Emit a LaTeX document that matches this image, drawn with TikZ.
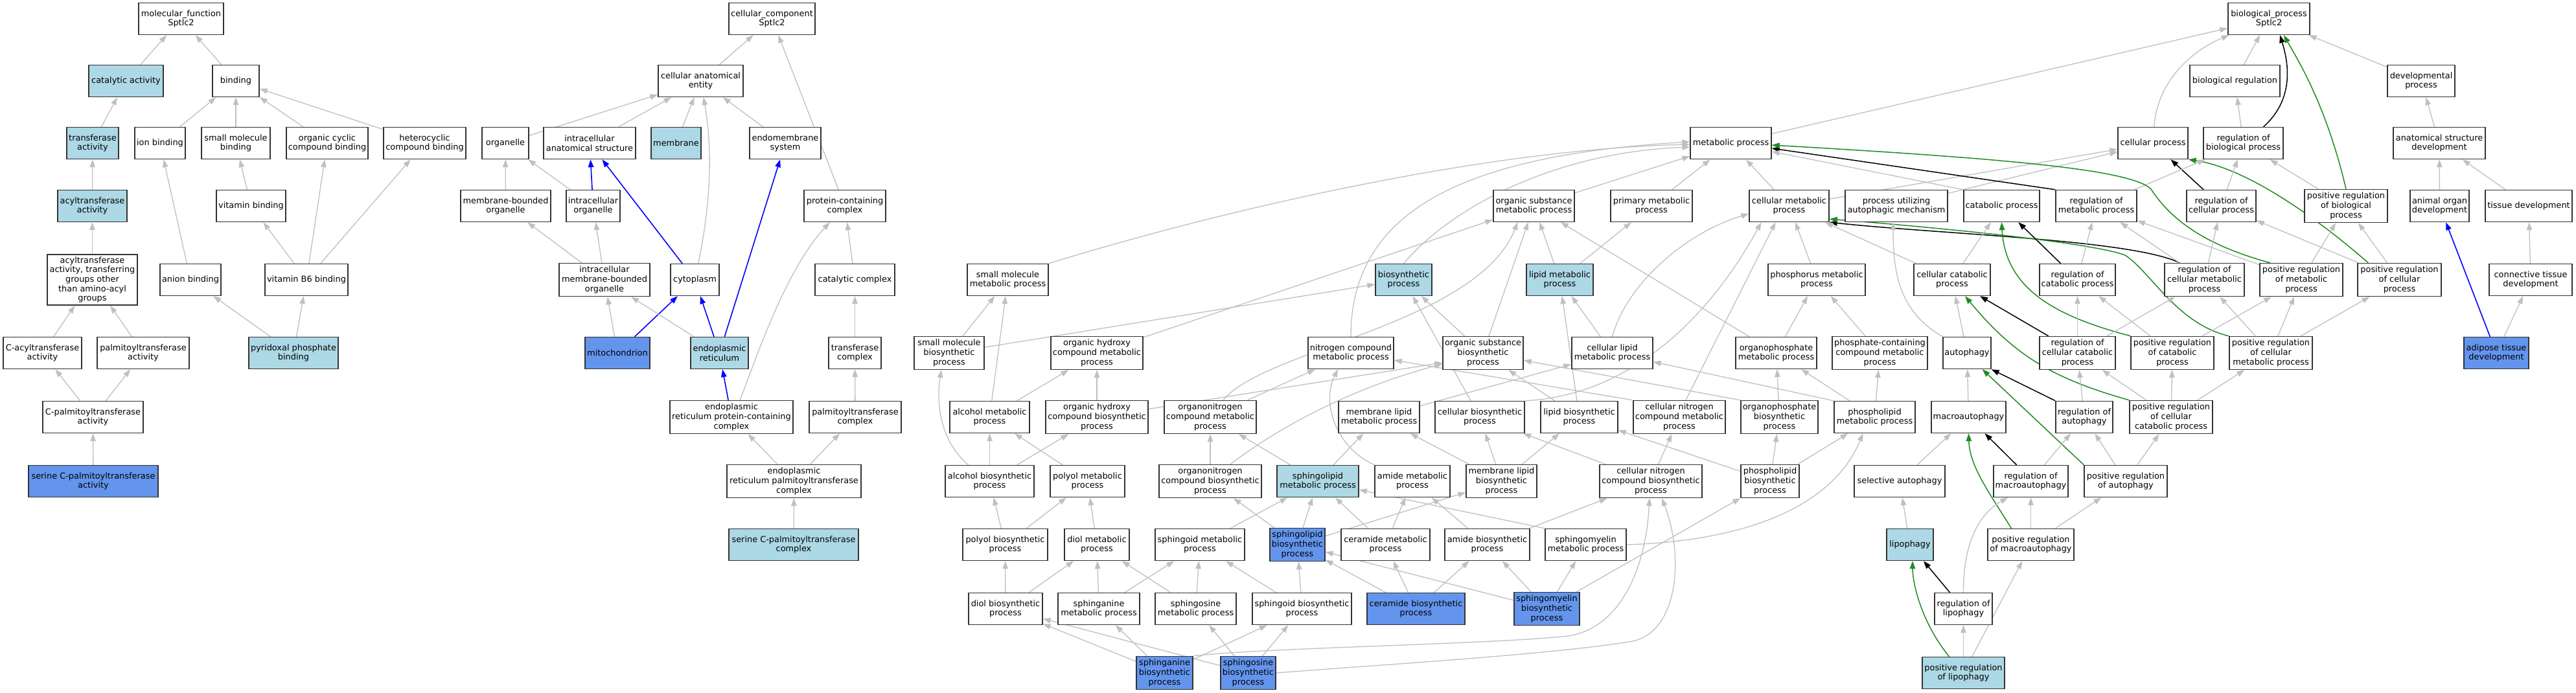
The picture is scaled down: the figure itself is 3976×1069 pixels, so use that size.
\documentclass[tikz,border=0pt]{standalone}
\usepackage{fontspec}
\setmainfont{DejaVu Sans}
\usetikzlibrary{arrows.meta,backgrounds,calc}
\definecolor{lb}{RGB}{173,216,230}
\definecolor{cb}{RGB}{100,149,237}
\definecolor{eg}{RGB}{192,192,192}
\definecolor{fg}{RGB}{34,139,34}
\newcommand\gn[6][]{\node[box,#1,minimum width={#4-#3}] (#2) at ({(#3+#4)/2},#5) {#6};}
\newcommand\edg[3][ge]{\draw[#1] (#2) -- (#3);}
\newcommand\cv[5][ge]{\draw[#1] (#2) .. controls (#3) and (#4) .. (#5);}
\begin{document}
\begin{tikzpicture}[x=1pt,y=-1pt,
 box/.style={draw=black!80,line width=1.4pt,fill=white,rectangle,minimum height=49,inner sep=1pt,align=center,font=\fontsize{12.9}{14.6}\selectfont},
 tall/.style={minimum height=51},
 lbf/.style={fill=lb}, cbf/.style={fill=cb},
 ge/.style={draw=eg,line width=1.3pt,-{Triangle[length=12pt,width=8.5pt]}},
 ke/.style={draw=black,line width=1.5pt,-{Triangle[length=12pt,width=8.5pt]}},
 gre/.style={draw=fg,line width=1.5pt,-{Triangle[length=12pt,width=8.5pt]}},
 be/.style={draw=blue,line width=1.6pt,-{Triangle[length=12pt,width=8.5pt]}}]
\useasboundingbox (0,0) rectangle (3976,1069);
% ---------------- molecular function
\gn{mf}{214}{345}{29}{molecular\_function\\Sptlc2}
\gn[lbf]{catact}{137}{252}{125}{catalytic activity}
\gn{binding}{328}{400}{125}{binding}
\gn[lbf]{transf}{103}{183}{221}{transferase\\activity}
\gn{ionb}{208}{286}{221}{ion binding}
\gn{smb}{311}{417}{221}{small molecule\\binding}
\gn{ocb}{442}{568}{221}{organic cyclic\\compound binding}
\gn{hcb}{592}{719}{221}{heterocyclic\\compound binding}
\gn[lbf]{acyl}{89}{196}{318}{acyltransferase\\activity}
\gn{vitb}{334}{441}{318}{vitamin binding}
\gn[minimum height=78]{acylo}{73}{212}{432}{acyltransferase\\activity, transferring\\groups other\\than amino-acyl\\groups}
\gn{anion}{247}{341}{432}{anion binding}
\gn{vb6}{409}{537}{432}{vitamin B6 binding}
\gn{cacyl}{5}{126}{545}{C-acyltransferase\\activity}
\gn{palm}{150}{292}{545}{palmitoyltransferase\\activity}
\gn[lbf]{pyr}{384}{522}{545}{pyridoxal phosphate\\binding}
\gn{cpalm}{66}{221}{644}{C-palmitoyltransferase\\activity}
\gn[cbf]{serpt}{44}{244}{743}{serine C-palmitoyltransferase\\activity}
% ---------------- cellular component
\gn{cc}{1125}{1258}{29}{cellular\_component\\Sptlc2}
\gn{cae}{1016}{1147}{125}{cellular anatomical\\entity}
\gn{org}{744}{816}{221}{organelle}
\gn{ias}{839}{981}{221}{intracellular\\anatomical structure}
\gn[lbf]{memb}{1005}{1082}{221}{membrane}
\gn{endo}{1157}{1267}{221}{endomembrane\\system}
\gn{mbo}{711}{850}{318}{membrane-bounded\\organelle}
\gn{io}{874}{957}{318}{intracellular\\organelle}
\gn{pcc}{1241}{1367}{318}{protein-containing\\complex}
\gn[tall]{imbo}{863}{1003}{432}{intracellular\\membrane-bounded\\organelle}
\gn{cyto}{1035}{1110}{432}{cytoplasm}
\gn{catc}{1258}{1381}{432}{catalytic complex}
\gn[cbf]{mito}{903}{1003}{545}{mitochondrion}
\gn[lbf]{er}{1066}{1155}{545}{endoplasmic\\reticulum}
\gn{trc}{1279}{1360}{545}{transferase\\complex}
\gn[tall]{erpcc}{1034}{1224}{644}{endoplasmic\\reticulum protein-containing\\complex}
\gn{palmc}{1249}{1391}{644}{palmitoyltransferase\\complex}
\gn[tall]{erptc}{1122}{1329}{743}{endoplasmic\\reticulum palmitoyltransferase\\complex}
\gn[lbf]{sptc}{1125}{1325}{841}{serine C-palmitoyltransferase\\complex}
% ---------------- biological process
\gn{bp}{3439}{3565}{29}{biological\_process\\Sptlc2}
\gn{breg}{3380}{3519}{125}{biological regulation}
\gn{dev}{3685}{3789}{125}{developmental\\process}
\gn{mp}{2609}{2734}{221}{metabolic process}
\gn{cp}{3269}{3377}{221}{cellular process}
\gn{rbp}{3401}{3524}{221}{regulation of\\biological process}
\gn{asd}{3694}{3836}{221}{anatomical structure\\development}
\gn{osm}{2305}{2430}{318}{organic substance\\metabolic process}
\gn{pmp}{2486}{2612}{318}{primary metabolic\\process}
\gn{cmp}{2700}{2823}{318}{cellular metabolic\\process}
\gn{puam}{2848}{3006}{318}{process utilizing\\autophagic mechanism}
\gn{catp}{3031}{3148}{318}{catabolic process}
\gn{rmp}{3173}{3298}{318}{regulation of\\metabolic process}
\gn{rcp}{3375}{3482}{318}{regulation of\\cellular process}
\gn[tall]{prbp}{3557}{3685}{318}{positive regulation\\of biological\\process}
\gn{aod}{3720}{3811}{318}{animal organ\\development}
\gn{td}{3836}{3970}{318}{tissue development}
\gn{smm}{1493}{1618}{432}{small molecule\\metabolic process}
\gn[lbf]{bsp}{2123}{2210}{432}{biosynthetic\\process}
\gn[lbf]{lmp}{2356}{2459}{432}{lipid metabolic\\process}
\gn{phmp}{2729}{2879}{432}{phosphorus metabolic\\process}
\gn{ccp}{2954}{3072}{432}{cellular catabolic\\process}
\gn{rcat}{3148}{3265}{432}{regulation of\\catabolic process}
\gn[tall]{rcmp}{3341}{3464}{432}{regulation of\\cellular metabolic\\process}
\gn[tall]{prmp}{3488}{3616}{432}{positive regulation\\of metabolic\\process}
\gn[tall]{prcp}{3639}{3768}{432}{positive regulation\\of cellular\\process}
\gn{ctd}{3842}{3970}{432}{connective tissue\\development}
\gn[tall]{smb2}{1411}{1519}{545}{small molecule\\biosynthetic\\process}
\gn[tall]{ohcm}{1622}{1764}{545}{organic hydroxy\\compound metabolic\\process}
\gn{ncm}{2019}{2151}{545}{nitrogen compound\\metabolic process}
\gn[tall]{osb}{2227}{2351}{545}{organic substance\\biosynthetic\\process}
\gn{clm}{2426}{2551}{545}{cellular lipid\\metabolic process}
\gn{opm}{2679}{2804}{545}{organophosphate\\metabolic process}
\gn[tall]{pccm}{2828}{2975}{545}{phosphate-containing\\compound metabolic\\process}
\gn{aut}{2999}{3073}{545}{autophagy}
\gn[tall]{rccp}{3148}{3265}{545}{regulation of\\cellular catabolic\\process}
\gn[tall]{prcat}{3289}{3417}{545}{positive regulation\\of catabolic\\process}
\gn[tall]{prcmp}{3441}{3569}{545}{positive regulation\\of cellular\\metabolic process}
\gn[cbf]{atd}{3803}{3903}{545}{adipose tissue\\development}
\gn{alcm}{1466}{1589}{644}{alcohol metabolic\\process}
\gn[tall]{ohcb}{1614}{1772}{644}{organic hydroxy\\compound biosynthetic\\process}
\gn[tall]{onm}{1797}{1939}{644}{organonitrogen\\compound metabolic\\process}
\gn{mlm}{2066}{2191}{644}{membrane lipid\\metabolic process}
\gn{cbp}{2215}{2353}{644}{cellular biosynthetic\\process}
\gn{lbp}{2378}{2497}{644}{lipid biosynthetic\\process}
\gn[tall]{cncm}{2521}{2663}{644}{cellular nitrogen\\compound metabolic\\process}
\gn[tall]{opb}{2687}{2806}{644}{organophosphate\\biosynthetic\\process}
\gn{plm}{2831}{2956}{644}{phospholipid\\metabolic process}
\gn{macro}{2981}{3096}{644}{macroautophagy}
\gn{raut}{3173}{3261}{644}{regulation of\\autophagy}
\gn[tall]{prccp}{3287}{3415}{644}{positive regulation\\of cellular\\catabolic process}
\gn{alcb}{1459}{1596}{743}{alcohol biosynthetic\\process}
\gn{polm}{1621}{1736}{743}{polyol metabolic\\process}
\gn[tall]{onb}{1789}{1947}{743}{organonitrogen\\compound biosynthetic\\process}
\gn[lbf]{slm}{1971}{2097}{743}{sphingolipid\\metabolic process}
\gn{amm}{2122}{2238}{743}{amide metabolic\\process}
\gn[tall]{mlb}{2263}{2372}{743}{membrane lipid\\biosynthetic\\process}
\gn[tall]{cncb}{2469}{2627}{743}{cellular nitrogen\\compound biosynthetic\\process}
\gn[tall]{plb}{2687}{2777}{743}{phospholipid\\biosynthetic\\process}
\gn{selaut}{2862}{3002}{743}{selective autophagy}
\gn{rmacro}{3077}{3192}{743}{regulation of\\macroautophagy}
\gn{praut}{3217}{3345}{743}{positive regulation\\of autophagy}
\gn{polb}{1486}{1617}{841}{polyol biosynthetic\\process}
\gn{diolm}{1643}{1743}{841}{diol metabolic\\process}
\gn{sgm}{1783}{1921}{841}{sphingoid metabolic\\process}
\gn[cbf,tall]{slb}{1960}{2045}{841}{sphingolipid\\biosynthetic\\process}
\gn{cerm}{2070}{2207}{841}{ceramide metabolic\\process}
\gn{amb}{2230}{2361}{841}{amide biosynthetic\\process}
\gn{smym}{2385}{2510}{841}{sphingomyelin\\metabolic process}
\gn[lbf]{lipo}{2912}{2984}{841}{lipophagy}
\gn{prmacro}{3068}{3201}{841}{positive regulation\\of macroautophagy}
\gn{diolb}{1495}{1609}{940}{diol biosynthetic\\process}
\gn{sanm}{1633}{1759}{940}{sphinganine\\metabolic process}
\gn{sosm}{1783}{1908}{940}{sphingosine\\metabolic process}
\gn{sgb}{1933}{2086}{940}{sphingoid biosynthetic\\process}
\gn[cbf]{cerb}{2110}{2261}{940}{ceramide biosynthetic\\process}
\gn[cbf,tall]{smyb}{2337}{2438}{940}{sphingomyelin\\biosynthetic\\process}
\gn{rlipo}{2986}{3075}{940}{regulation of\\lipophagy}
\gn[cbf,tall]{sanb}{1754}{1841}{1039}{sphinganine\\biosynthetic\\process}
\gn[cbf,tall]{sosb}{1884}{1969}{1039}{sphingosine\\biosynthetic\\process}
\gn[lbf]{prlipo}{2967}{3094}{1039}{positive regulation\\of lipophagy}
\begin{scope}[on background layer]
\fill[white] (0,0) rectangle (3976,1069);
% MF edges
\edg{catact}{mf}\edg{binding}{mf}\edg{transf}{catact}\edg{acyl}{transf}\edg{acylo}{acyl}
\edg{cacyl}{acylo}\edg{palm}{acylo}\edg{cpalm}{cacyl}\edg{cpalm}{palm}\edg{serpt}{cpalm}
\edg{ionb}{binding}\edg{smb}{binding}\edg{ocb}{binding}\edg{hcb}{binding}\edg{anion}{ionb}
\edg{vitb}{smb}\edg{vb6}{vitb}\edg{vb6}{ocb}\edg{vb6}{hcb}\edg{pyr}{anion}\edg{pyr}{vb6}
% CC edges
\edg{cae}{cc}\edg{pcc}{cc}\edg{org}{cae}\edg{ias}{cae}\edg{memb}{cae}\edg{endo}{cae}
\cv{cyto}{1100,300}{1098,220}{cae}
\edg{mbo}{org}\edg{io}{org}\edg[be]{io}{ias}\edg[be]{cyto}{ias}\edg{imbo}{mbo}\edg{imbo}{io}
\edg{mito}{imbo}\edg[be]{mito}{cyto}\edg{er}{imbo}\edg[be]{er}{cyto}\edg[be]{er}{endo}
\edg{catc}{pcc}\edg{trc}{catc}\edg[be]{erpcc}{er}
\cv{$(erpcc.north)+(13,0)$}{1165,560}{1210,420}{pcc}
\edg{palmc}{trc}\edg{erptc}{erpcc}\edg{erptc}{palmc}\edg{sptc}{erptc}
% BP top
\edg{breg}{bp}\edg{mp}{bp}\edg{dev}{bp}
\cv{cp}{3330,120}{3390,75}{bp}
\cv[ke]{$(rbp.north)+(31,0)$}{3545,150}{3530,90}{$(bp.south)+(17,0)$}
\cv[gre]{prbp.north}{3590,160}{3545,90}{$(bp.south)+(23,0)$}
\edg{rbp}{breg}\edg{asd}{dev}\edg{aod}{asd}\edg{td}{asd}\edg{ctd}{td}
\edg[be]{atd}{aod}\edg{atd}{ctd}
\edg{cmp}{cp}\edg{puam}{cp}\edg[ke]{rcp}{cp}
\cv[gre]{$(prcp.north west)+(17,0)$}{3580,340}{3470,260}{cp.south east}
\edg{rcp}{rbp}\edg{prbp}{rbp}\edg{rmp}{rbp}
\edg[ke]{rmp.north west}{$(mp.east)+(0,8)$}
\draw[gre] ($(prmp.north)+(-48,0)$) .. controls (3390,375) and (3345,330) .. (3320,292) .. controls (3290,262) and (3100,245) .. ($(mp.east)+(0,3)$);
\edg{catp.north west}{$(mp.east)+(0,13)$}
\edg{cmp}{mp}\edg{pmp}{mp}\edg{osm}{mp}
\cv{smm.north east}{1900,320}{2300,230}{$(mp.west)+(0,2)$}
\cv{bsp.north}{2240,320}{2400,235}{$(mp.west)+(0,6)$}
\cv{ncm.north}{2085,330}{2250,240}{$(mp.west)+(0,-2)$}
\cv[ke]{$(rcmp.north west)+(24,0)$}{3290,370}{3000,362}{cmp.south east}
\draw[gre] (prcmp.north west) .. controls (3360,500) and (3320,420) .. (3280,394) .. controls (3230,375) and (3000,352) .. ($(cmp.south east)+(0,-5)$);
\edg{ccp}{cmp}\edg{phmp}{cmp}
\cv{clm.north}{2510,440}{2600,360}{$(cmp.west)+(0,12)$}
\cv{cbp.north east}{2530,610}{2650,470}{$(cmp.south)+(-43,0)$}
\edg{$(cncm.north)+(10,0)$}{$(cmp.south)+(-21,0)$}
\edg{ohcm}{osm}
\cv{$(onm.north)+(20,0)$}{1950,540}{2280,500}{$(osm.south)+(-25,0)$}
\edg{osb}{osm}\edg{lmp}{osm}\edg{opm}{osm}\edg{lmp}{pmp}
\edg{lbp}{lmp}\edg{clm}{lmp}
\edg{smb2}{bsp}\edg{cbp}{bsp}\edg{osb}{bsp}
\edg{ohcb}{$(osb.west)+(0,15)$}
\cv{$(onb.north)+(31,0)$}{2000,640}{2120,590}{$(osb.west)+(0,17)$}
\edg{lbp}{osb}\edg{opb.north west}{osb}
\edg{mlm}{clm}\edg{plm.north west}{clm}
\edg{onm}{ncm}\edg{cncm.north west}{ncm}
\cv{amm.north west}{2060,690}{2040,620}{$(ncm.south)+(-20,0)$}
\edg{ohcb}{ohcm}\edg{alcm}{ohcm}
\edg{smb2}{smm}\edg{alcm}{smm}
\cv{$(alcb.north)+(-33,0)$}{1450,680}{1445,620}{$(smb2.south)+(-12,0)$}
\edg{alcb}{ohcb}\edg{alcb}{alcm}\edg{polm}{alcm}
\edg{polb}{alcb}\edg{polb}{polm}\edg{diolm}{polm}
\edg{diolb}{polb}\edg{diolb}{diolm}\edg{sanm}{diolm}\edg{sosm}{diolm}
\edg{sanb}{diolb}\edg{sosb}{diolb}\edg{sanb}{sanm}\edg{sosb}{sosm}
\edg{sanb}{sgb}\edg{sosb}{sgb}
\edg{sanm}{sgm}\edg{sosm}{sgm}\edg{sgb}{sgm}
\edg{sgb}{slb}\edg{cerb}{slb}\edg{smyb}{slb}
\edg{sgm}{slm}\edg{slb}{slm}\edg{cerm}{slm}\edg{smym.north west}{slm}
\edg{cerb}{cerm}\edg{cerb}{amb}\edg{smyb}{amb}
\edg{smyb}{smym}\edg{smyb}{plb}
\edg{amb}{amm}\edg{cerm}{amm}\edg{amb}{cncb}
\edg{slb}{mlb}\edg{slb}{onb}
\edg{mlb}{mlm}\edg{mlb}{cbp}\edg{mlb}{lbp}
\edg{slm}{mlm}\edg{slm}{onm}\edg{onb}{onm}
\edg{cncb}{cbp}\edg{cncb}{cncm}
\draw[ge] (sanb.north east) .. controls (1950,1000) and (2300,995) .. (2420,982) .. controls (2500,970) and (2540,880) .. ($(cncb.south)+(-2,0)$);
\draw[ge] (sosb.east) .. controls (2150,1025) and (2400,1010) .. (2520,990) .. controls (2590,975) and (2600,860) .. ($(cncb.south)+(17,0)$);
\edg{plb}{opb}\edg{plb}{plm}\edg{plb}{lbp}
\edg{opb}{opm}\edg{plm}{opm}\edg{plm}{pccm}
\cv{smym.east}{2700,835}{2830,780}{$(plm.south)+(-18,0)$}
\edg{opm}{phmp}\edg{pccm}{phmp}
\edg{aut}{ccp}
\cv{aut.north west}{2930,480}{2922,420}{$(puam.south)+(-5,0)$}
\edg{macro}{aut}\edg[ke]{raut.north west}{aut.south east}
\edg[gre]{praut.north west}{$(aut.south east)+(-14,0)$}
\edg{ccp}{catp}
\edg[ke]{rccp}{ccp}
\cv[gre]{prccp.north west}{3170,585}{3110,550}{$(ccp.south)+(20,0)$}
\edg[ke]{rcat}{catp}
\cv[gre]{prcat.north west}{3180,490}{3095,450}{catp.south}
\edg{rcat}{rmp}\edg{rccp}{rcat}\edg{rccp}{rcmp}
\edg{prcat}{rcat}\edg{prcat}{prmp}
\edg{prcmp}{prmp}\edg{prcmp}{rcmp}\edg{prcmp}{prcp}
\edg{rcmp}{rmp}\edg{rcmp}{rcp}
\edg{prmp}{rmp}\edg{prmp}{prbp}
\edg{prcp}{rcp}\edg{prcp}{prbp}
\edg{raut}{rccp}
\edg{prccp}{rccp}\edg{prccp}{prcat}\edg{prccp}{prcmp}
\edg{praut}{raut}\edg{praut}{prccp}
\edg[ke]{$(rmacro.north)+(-22,0)$}{$(macro.south)+(25,0)$}\edg{rmacro}{raut}
\cv[gre]{$(prmacro.north)+(-30,0)$}{3070,760}{3040,720}{macro.south}
\edg{prmacro}{rmacro}\edg{prmacro}{praut}
\edg{selaut}{macro}\edg{lipo}{selaut}
\edg[ke]{rlipo}{lipo}
\cv{rlipo.north}{3030,830}{3060,790}{$(rmacro.south west)+(23,0)$}
\cv[gre]{$(prlipo.north)+(-22,0)$}{2965,960}{2952,900}{$(lipo.south)+(4,0)$}
\edg{prlipo}{rlipo}\edg{prlipo}{prmacro}
\end{scope}
\end{tikzpicture}
\end{document}
